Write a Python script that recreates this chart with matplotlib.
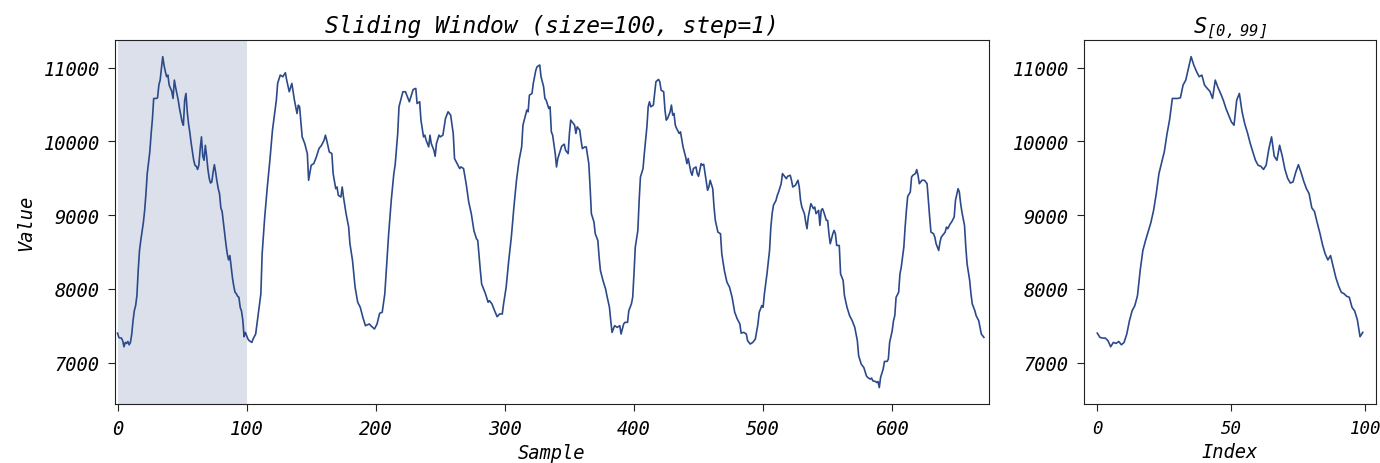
import matplotlib
matplotlib.use("Agg")
import matplotlib.pyplot as plt

# -------------------------------------------------
# data (sample index, value)
# -------------------------------------------------
sample_idx = [
    0, 1, 2, 3, 4, 5, 6, 7, 8, 9, 10, 11, 12, 13, 14, 15, 16, 17, 18, 20,
    21, 22, 23, 25, 26, 27, 28, 30, 31, 32, 33, 34, 35, 36, 37, 38, 39, 40,
    41, 42, 43, 44, 45, 46, 47, 48, 49, 50, 51, 52, 53, 54, 55, 56, 57, 58,
    59, 60, 61, 62, 63, 64, 65, 66, 67, 68, 69, 70, 71, 72, 73, 74, 75, 76,
    77, 78, 79, 80, 81, 82, 83, 84, 85, 86, 87, 88, 89, 90, 91, 92, 93, 94,
    95, 96, 97, 98, 99,
    100, 101, 102, 104, 105, 107, 109, 111, 112, 114, 116, 118, 120, 123,
    124, 126, 128, 130, 131, 133, 135, 137, 139, 140, 141, 143, 145, 147,
    148, 150, 152, 154, 156, 158, 160, 161, 162, 164, 166, 167, 169, 170,
    171, 173, 174, 175, 177, 179, 180, 182, 184, 186, 188, 190, 192, 195,
    197, 199, 201, 203, 205, 207, 208, 210, 212, 214, 215, 217, 218, 220,
    221, 223, 225, 226, 228, 229, 231, 232, 234, 235, 237, 238, 239, 241,
    242, 243, 245, 246, 247, 249, 250, 252, 254, 256, 258, 260, 261, 263,
    265, 266, 268, 270, 272, 274, 276, 278, 279, 281, 282, 285, 287, 288,
    290, 292, 294, 296, 298, 299, 301, 303, 305, 307, 309, 311, 313, 314,
    315, 317, 318, 319, 321, 322, 324, 325, 327, 328, 330, 331, 332, 334,
    335, 336, 337, 339, 340, 341, 343, 344, 346, 347, 349, 350, 351, 352,
    354, 355, 356, 358, 359, 360, 362, 363, 365, 366, 367, 369, 370, 372,
    373, 374, 376, 378, 379, 381, 382, 383, 385, 387, 389, 390, 392, 393,
    395, 396, 398, 399, 400, 401, 403, 404, 405, 407, 408, 410, 411, 412,
    413, 415, 416, 417, 419, 420, 421, 423, 424, 425, 426, 428, 429, 430,
    431, 432, 433, 435, 436, 438, 439, 440, 441, 442, 444, 445, 446, 448,
    449, 450, 452, 453, 454, 456, 457, 458, 459, 461, 462, 463, 465, 467,
    468, 470, 472, 474, 476, 478, 480, 482, 483, 485, 487, 488, 490, 492,
    494, 496, 497, 499, 500, 501, 503, 505, 506, 507, 508, 510, 511, 512,
    514, 515, 516, 518, 519, 521, 522, 523, 525, 527, 528, 529, 530, 532,
    533, 534, 535, 536, 537, 539, 540, 541, 543, 544, 545, 546, 547, 549,
    550, 551, 552, 554, 555, 556, 557, 559, 560, 562, 563, 565, 567, 569,
    571, 573, 574, 576, 578, 580, 581, 583, 584, 585, 587, 588, 589, 590,
    591, 593, 594, 596, 597, 598, 600, 601, 602, 603, 605, 606, 607, 609,
    610, 611, 612, 614, 615, 616, 618, 619, 620, 621, 623, 625, 627, 628,
    629, 630, 632, 633, 634, 636, 637, 638, 640, 641, 642, 643, 645, 646,
    648, 649, 651, 652, 653, 654, 656, 657, 658, 660, 661, 662, 664, 665,
    667, 668, 669, 671,
]
values = [
    7400, 7342, 7333, 7333, 7297, 7215, 7274, 7260, 7287, 7242, 7274, 7387,
    7568, 7704, 7772, 7908, 8248, 8520, 8656, 8900, 9064, 9291, 9563, 9860,
    10100, 10300, 10583, 10583, 10592, 10764, 10832, 10991, 11150, 11036,
    10950, 10878, 10900, 10764, 10720, 10680, 10583, 10832, 10733, 10650,
    10560, 10447, 10356, 10266, 10220, 10560, 10651, 10402, 10240, 10120,
    9980, 9860, 9744, 9676, 9663, 9620, 9680, 9900, 10062, 9800, 9744, 9948,
    9800, 9620, 9500, 9436, 9450, 9580, 9685, 9580, 9460, 9360, 9291, 9100,
    9050, 8900, 8760, 8600, 8475, 8393, 8452, 8300, 8150, 8040, 7954, 7935,
    7900, 7886, 7750, 7700, 7580, 7351, 7410,
    7365, 7320, 7297, 7274, 7320, 7389, 7660, 7932, 8476, 8975, 9383, 9745,
    10153, 10560, 10787, 10900, 10878, 10932, 10833, 10674, 10787, 10560,
    10379, 10492, 10470, 10062, 9971, 9835, 9473, 9677, 9700, 9790, 9903,
    9948, 10017, 10085, 10017, 9858, 9835, 9563, 9359, 9382, 9269, 9246,
    9382, 9246, 9020, 8839, 8612, 8385, 8023, 7819, 7750, 7614, 7501, 7524,
    7487, 7456, 7524, 7669, 7683, 7932, 8204, 8748, 9201, 9564, 9677, 10108,
    10470, 10606, 10674, 10674, 10583, 10538, 10651, 10705, 10719, 10515,
    10538, 10289, 10062, 10085, 10017, 9926, 10085, 9971, 9881, 9799, 9971,
    10085, 10062, 10085, 10312, 10402, 10357, 10108, 9768, 9699, 9632, 9654,
    9632, 9427, 9178, 9020, 8793, 8680, 8657, 8249, 8067, 7932, 7819, 7841,
    7796, 7705, 7623, 7660, 7660, 7796, 8023, 8385, 8702, 9110, 9473, 9745,
    9926, 10221, 10289, 10425, 10402, 10628, 10651, 10787, 10968, 11014,
    11037, 10878, 10742, 10583, 10560, 10447, 10470, 10130, 10085, 9835,
    9654, 9768, 9881, 9935, 9963, 9881, 9835, 10108, 10289, 10266, 10221,
    10108, 10198, 10153, 10017, 9903, 9926, 9926, 9699, 9382, 9020, 8907,
    8748, 8657, 8430, 8249, 8113, 7999, 7909, 7750, 7569, 7410, 7501, 7478,
    7501, 7388, 7524, 7546, 7546, 7705, 7796, 7886, 8204, 8566, 8793, 9201,
    9518, 9632, 9835, 10198, 10470, 10538, 10470, 10493, 10651, 10810,
    10841, 10810, 10696, 10674, 10425, 10289, 10312, 10402, 10493, 10357,
    10379, 10221, 10176, 10108, 10130, 9926, 9858, 9790, 9699, 9768, 9587,
    9541, 9632, 9654, 9564, 9527, 9699, 9677, 9690, 9450, 9337, 9382, 9473,
    9359, 9110, 8929, 8770, 8748, 8476, 8249, 8090, 8023, 7886, 7683, 7592,
    7524, 7400, 7410, 7388, 7297, 7252, 7274, 7320, 7524, 7683, 7773, 7750,
    7932, 8204, 8521, 8838, 9020, 9133, 9201, 9269, 9314, 9427, 9564, 9541,
    9495, 9527, 9541, 9473, 9382, 9405, 9473, 9382, 9201, 9110, 9020, 8907,
    8816, 8975, 9065, 9156, 9088, 9110, 9020, 9065, 8861, 9065, 9088, 9043,
    8929, 8929, 8748, 8612, 8748, 8793, 8748, 8589, 8589, 8204, 8113, 7909,
    7750, 7637, 7569, 7478, 7297, 7093, 6980, 6934, 6821, 6799, 6776, 6790,
    6753, 6744, 6730, 6744, 6662, 6799, 6912, 7016, 7016, 7048, 7274, 7433,
    7569, 7637, 7886, 7954, 8204, 8294, 8566, 8838, 9065, 9255, 9314, 9518,
    9541, 9564, 9618, 9541, 9427, 9473, 9473, 9427, 9201, 8975, 8770, 8748,
    8702, 8612, 8521, 8634, 8702, 8748, 8770, 8838, 8816, 8884, 8907, 8975,
    9201, 9359, 9314, 9156, 9042, 8861, 8566, 8339, 8113, 7932, 7796, 7705,
    7637, 7569, 7478, 7388, 7343,
]

window_size = 100
step = 1
window_start = 0

win_x = [i for i in sample_idx if window_start <= i < window_start + window_size]
win_y = [v for i, v in zip(sample_idx, values) if window_start <= i < window_start + window_size]

line_color = "#2c4a8a"
mono = "DejaVu Sans Mono"

plt.rcParams["font.family"] = mono
plt.rcParams["font.style"] = "oblique"
plt.rcParams["mathtext.fontset"] = "custom"
plt.rcParams["mathtext.rm"] = "DejaVu Sans Mono:oblique"
plt.rcParams["mathtext.it"] = "DejaVu Sans Mono:oblique"

fig = plt.figure(figsize=(13.8, 4.64), dpi=100)
ax = fig.add_axes([0.0833, 0.127, 0.6334, 0.7844])
ax2 = fig.add_axes([0.7855, 0.127, 0.2116, 0.7844])

# main series with the highlighted window
ax.axvspan(window_start, window_start + window_size, color=line_color, alpha=0.17, lw=0)
ax.plot(sample_idx, values, color=line_color, lw=1.2)
ax.set_xlim(-2, 675)
ax.margins(y=0.05)
ax.set_title(f"Sliding Window (size={window_size}, step={step})", fontsize=16.5, pad=6)
ax.set_xlabel("Sample", fontsize=13.5, labelpad=3)
ax.set_ylabel("Value", fontsize=13.5, labelpad=6)
ax.set_yticks([7000, 8000, 9000, 10000, 11000])

# the extracted window
ax2.plot(win_x, win_y, color=line_color, lw=1.2)
ax2.set_ylim(ax.get_ylim())
ax2.set_yticks([7000, 8000, 9000, 10000, 11000])
ax2.set_xticks([0, 50, 100])
ax2.set_title(r"$S_{[0,\ 99]}$", fontsize=16, pad=6)
ax2.set_xlabel("Index", fontsize=13.5, labelpad=3)

for a in (ax, ax2):
    a.tick_params(labelsize=13.5, length=5, pad=6, color="#222222")
    for s in a.spines.values():
        s.set_color("#222222")
ax2.tick_params(axis="x", labelsize=12.5)

fig.savefig("out.png", dpi=100)
